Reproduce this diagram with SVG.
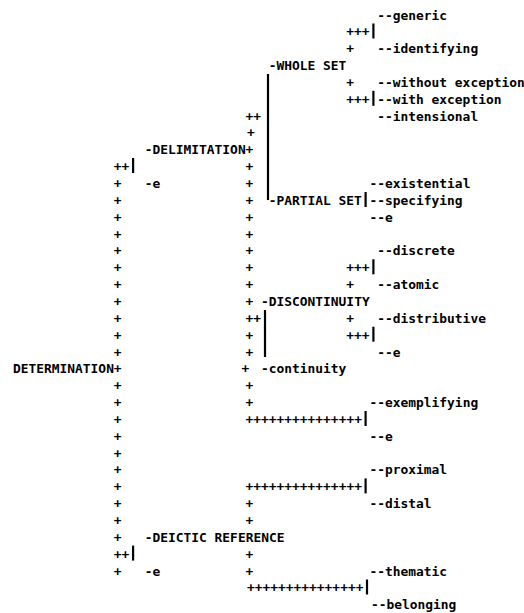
<svg xmlns="http://www.w3.org/2000/svg" width="524" height="613" viewBox="0 0 524 613">
<style>
text{font-family:"DejaVu Sans Mono","Liberation Mono",monospace;font-size:12.9px;font-weight:bold;fill:#000}
.bar{stroke:#000;stroke-width:2.2;fill:none}
</style>
<rect width="524" height="613" fill="#fff"/>
<g id="connectors">
<!-- third-level plus chains -->
<text x="346.25" y="36.35">+++</text><line class="bar" x1="373.4" y1="23.5" x2="373.4" y2="38.5"/>
<text x="346.25" y="53.2">+</text>
<text x="346.25" y="86.9">+</text>
<text x="346.25" y="103.75">+++</text><line class="bar" x1="373.4" y1="90.8" x2="373.4" y2="105.8"/>
<line class="bar" x1="268" y1="74" x2="268" y2="200"/>
<line class="bar" x1="365.6" y1="192" x2="365.6" y2="207"/>
<text x="346.25" y="272.25">+++</text><line class="bar" x1="373.4" y1="259.3" x2="373.4" y2="274.3"/>
<text x="346.25" y="289.1">+</text>
<text x="346.25" y="322.8">+</text>
<text x="346.25" y="339.65">+++</text><line class="bar" x1="373.4" y1="326.7" x2="373.4" y2="341.7"/>
<line class="bar" x1="265" y1="310" x2="265" y2="357"/>
<!-- second column -->
<text x="245.5" y="120.6">++</text>
<text x="247" y="137.45">+</text>
<text x="245.5" y="154.3">+</text>
<text x="245.5" y="171.15">+</text>
<text x="245.5" y="188">+</text>
<text x="245.5" y="204.85">+</text>
<text x="245.5" y="221.7">+</text>
<text x="245.5" y="238.55">+</text>
<text x="245.5" y="255.4">+</text>
<text x="245.5" y="272.25">+</text>
<text x="245.5" y="289.1">+</text>
<text x="245.5" y="305.95">+</text>
<text x="245.5" y="322.8">++</text>
<text x="245.5" y="339.65">+</text>
<text x="245.5" y="356.5">+</text>
<text x="241.6" y="373.35">+</text>
<text x="245.5" y="390.2">+</text>
<text x="245.5" y="407.05">+</text>
<text x="245.5" y="423.9">+++++++++++++++</text><line class="bar" x1="365.6" y1="411" x2="365.6" y2="426"/>
<text x="245.5" y="491.3">+++++++++++++++</text><line class="bar" x1="365.6" y1="478.4" x2="365.6" y2="493.4"/>
<text x="245.5" y="508.15">+</text>
<text x="245.5" y="525">+</text>
<text x="245.5" y="558.7">+</text>
<text x="245.5" y="575.55">+</text>
<text x="247" y="592.4">+++++++++++++++</text><line class="bar" x1="367" y1="579.5" x2="367" y2="594.5"/>
<!-- first column -->
<text x="113.75" y="171.15">++</text><line class="bar" x1="133.1" y1="158" x2="133.1" y2="173"/>
<text x="113.75" y="188">+</text>
<text x="113.75" y="204.85">+</text>
<text x="113.75" y="221.7">+</text>
<text x="113.75" y="238.55">+</text>
<text x="113.75" y="255.4">+</text>
<text x="113.75" y="272.25">+</text>
<text x="113.75" y="289.1">+</text>
<text x="113.75" y="305.95">+</text>
<text x="113.75" y="322.8">+</text>
<text x="113.75" y="339.65">+</text>
<text x="113.75" y="356.5">+</text>
<text x="113.75" y="373.35">+</text>
<text x="113.75" y="390.2">+</text>
<text x="113.75" y="407.05">+</text>
<text x="113.75" y="423.9">+</text>
<text x="113.75" y="440.75">+</text>
<text x="113.75" y="457.6">+</text>
<text x="113.75" y="474.45">+</text>
<text x="113.75" y="491.3">+</text>
<text x="113.75" y="508.15">+</text>
<text x="113.75" y="525">+</text>
<text x="113.75" y="541.85">+</text>
<text x="113.75" y="558.7">++</text><line class="bar" x1="133.1" y1="545.6" x2="133.1" y2="560.6"/>
<text x="113.75" y="575.55">+</text>
</g>
<g id="n-determination"><text x="13" y="373.35">DETERMINATION</text></g>
<g id="n-delimitation"><text x="144.75" y="154.3">-DELIMITATION</text></g>
<g id="n-delim-e"><text x="144.75" y="188">-e</text></g>
<g id="n-whole-set"><text x="268.75" y="70.05">-WHOLE SET</text></g>
<g id="n-generic"><text x="377.25" y="19.5">--generic</text></g>
<g id="n-identifying"><text x="377.25" y="53.2">--identifying</text></g>
<g id="n-without-exception"><text x="377.25" y="86.9">--without exception</text></g>
<g id="n-with-exception"><text x="377.25" y="103.75">--with exception</text></g>
<g id="n-intensional"><text x="377.25" y="120.6">--intensional</text></g>
<g id="n-partial-set"><text x="268.75" y="204.85">-PARTIAL SET</text></g>
<g id="n-existential"><text x="369.5" y="188">--existential</text></g>
<g id="n-specifying"><text x="369.5" y="204.85">--specifying</text></g>
<g id="n-partial-e"><text x="369.5" y="221.7">--e</text></g>
<g id="n-discontinuity"><text x="261" y="305.95">-DISCONTINUITY</text></g>
<g id="n-discrete"><text x="377.25" y="255.4">--discrete</text></g>
<g id="n-atomic"><text x="377.25" y="289.1">--atomic</text></g>
<g id="n-distributive"><text x="377.25" y="322.8">--distributive</text></g>
<g id="n-discont-e"><text x="377.25" y="356.5">--e</text></g>
<g id="n-continuity"><text x="261" y="373.35">-continuity</text></g>
<g id="n-exemplifying"><text x="369.5" y="407.05">--exemplifying</text></g>
<g id="n-exempl-e"><text x="369.5" y="440.75">--e</text></g>
<g id="n-proximal"><text x="369.5" y="474.45">--proximal</text></g>
<g id="n-distal"><text x="369.5" y="508.15">--distal</text></g>
<g id="n-deictic"><text x="144.75" y="541.85">-DEICTIC REFERENCE</text></g>
<g id="n-deictic-e"><text x="144.75" y="575.55">-e</text></g>
<g id="n-thematic"><text x="369.5" y="575.55">--thematic</text></g>
<g id="n-belonging"><text x="371" y="609.25">--belonging</text></g>
</svg>
